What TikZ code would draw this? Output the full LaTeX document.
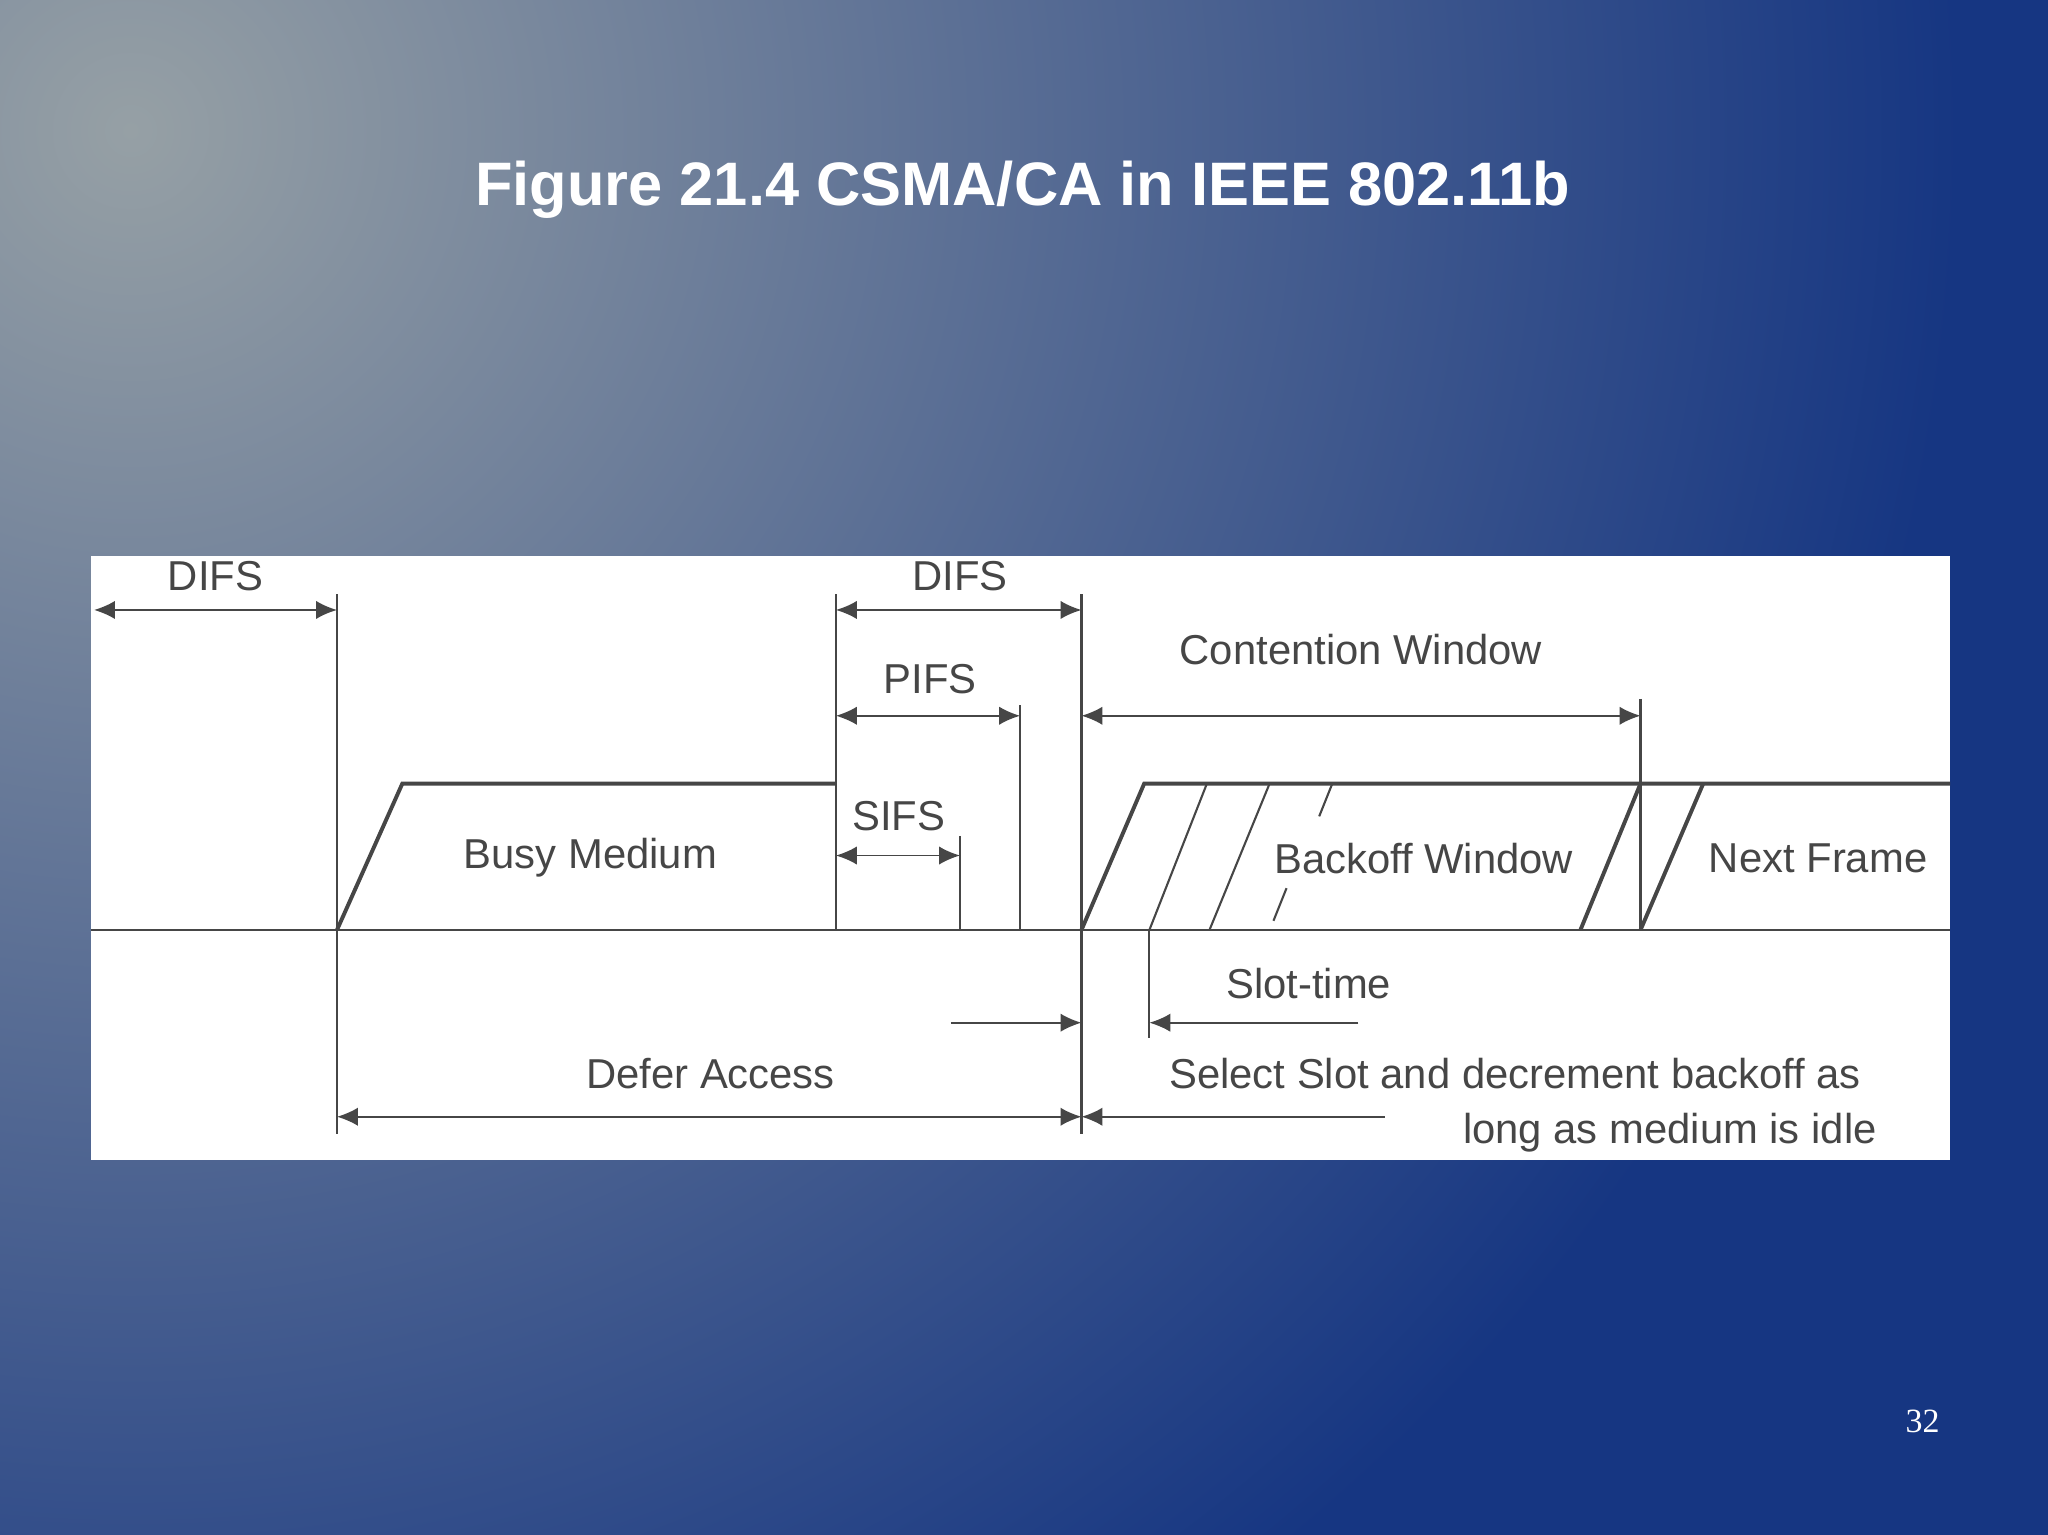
\documentclass[tikz,border=0pt]{standalone}
\usepackage{fontspec}
\setmainfont{Liberation Sans}
\usetikzlibrary{arrows.meta}
\definecolor{bgA}{RGB}{150,160,165}
\definecolor{bgB}{RGB}{22,54,130}
\definecolor{ink}{RGB}{70,70,70}
\begin{document}
\begin{tikzpicture}[x=1pt,y=-1pt,
  ln/.style={draw=ink,line width=1.6pt},
  thk/.style={draw=ink,line width=3pt},
  dim/.style={draw=ink,line width=1.4pt,{Latex[length=16pt,width=14pt]}-{Latex[length=16pt,width=14pt]}},
  onearr/.style={draw=ink,line width=1.4pt,-{Latex[length=16pt,width=14pt]}},
  lbl/.style={text=ink,font=\fontsize{32}{36}\selectfont,inner sep=0pt}]
\useasboundingbox (0,0) rectangle (1568,1175);
\fill[bgB] (0,0) rectangle (1568,1175);
\begin{scope}
\clip (0,0) rectangle (1568,1175);
\shade[inner color=bgA,outer color=bgB] (100,100) circle (1400);
\end{scope}
\node[text=white,font=\bfseries\fontsize{47}{52}\selectfont] (title) at (783,145) {Figure 21.4 CSMA/CA in IEEE 802.11b};
\node[text=white,font=\fontspec{Liberation Serif}\fontsize{26}{30}\selectfont] (pg) at (1472,1088) {32};
\fill[white] (70,426) rectangle (1493,888);
% baseline and verticals
\draw[ln] (70,712) -- (1493,712);
\coordinate (v1t) at (258,455); \coordinate (v1b) at (258,868);
\draw[ln] (v1t) -- (v1b);
\draw[ln] (640,455) -- (640,712);
\draw[ln] (828,455) -- (828,868);
\draw[ln] (781,540) -- (781,712);
\draw[ln] (735,640) -- (735,712);
\draw[ln] (1256,535) -- (1256,712);
% busy medium
\draw[thk] (258,712) -- (308,600) -- (640,600);
\draw[thk] (828,712) -- (876,600) -- (1493,600);
\draw[ln] (880,712) -- (924,600);
\draw[ln] (926,712) -- (972,600);
\draw[ln] (975,705) -- (985,680);
\draw[ln] (1010,625) -- (1020,600);
\draw[thk] (1210,712) -- (1256,600);
\draw[thk] (1256,712) -- (1304,600);
% dimension arrows
\coordinate (d1a) at (72,467); \coordinate (d1b) at (258,467);
\draw[dim] (d1a) -- (d1b);
\coordinate (d2a) at (640,467); \coordinate (d2b) at (828,467);
\draw[dim] (d2a) -- (d2b);
\coordinate (pa) at (640,548); \coordinate (pb) at (781,548);
\draw[dim] (pa) -- (pb);
\coordinate (sa) at (640,655); \coordinate (sb) at (735,655);
\draw[dim] (sa) -- (sb);
\coordinate (ca) at (828,548); \coordinate (cb) at (1256,548);
\draw[dim] (ca) -- (cb);
\draw[ln] (880,712) -- (880,795);
\coordinate (st1) at (1040,783); \coordinate (st2) at (880,783);
\draw[onearr] (st1) -- (st2);
\coordinate (w1) at (728,783); \coordinate (w2) at (828,783);
\draw[onearr] (w1) -- (w2);
\coordinate (da) at (258,855); \coordinate (db) at (828,855);
\draw[dim] (da) -- (db);
\coordinate (e1) at (1060,855); \coordinate (e2) at (828,855);
\draw[onearr] (e1) -- (e2);
% labels
\node[lbl] (t1) at (165,441) {DIFS};
\node[lbl] (t2) at (735,441) {DIFS};
\node[lbl] (t3) at (712,520) {PIFS};
\node[lbl] (t4) at (688,625) {SIFS};
\node[lbl] (t5) at (1042,497) {Contention Window};
\node[lbl] (t6) at (452,657) {Busy Medium};
\node[lbl,fill=white,inner sep=2pt] (t7) at (1090,657) {Backoff Window};
\node[lbl] (t8) at (1392,657) {Next Frame};
\node[lbl] (t9) at (1002,753) {Slot-time};
\node[lbl] (t10) at (544,822) {Defer Access};
\node[lbl] (t11) at (1160,822) {Select Slot and decrement backoff as};
\node[lbl,anchor=east] (t12) at (1437,867) {long as medium is idle};
\end{tikzpicture}
\end{document}
